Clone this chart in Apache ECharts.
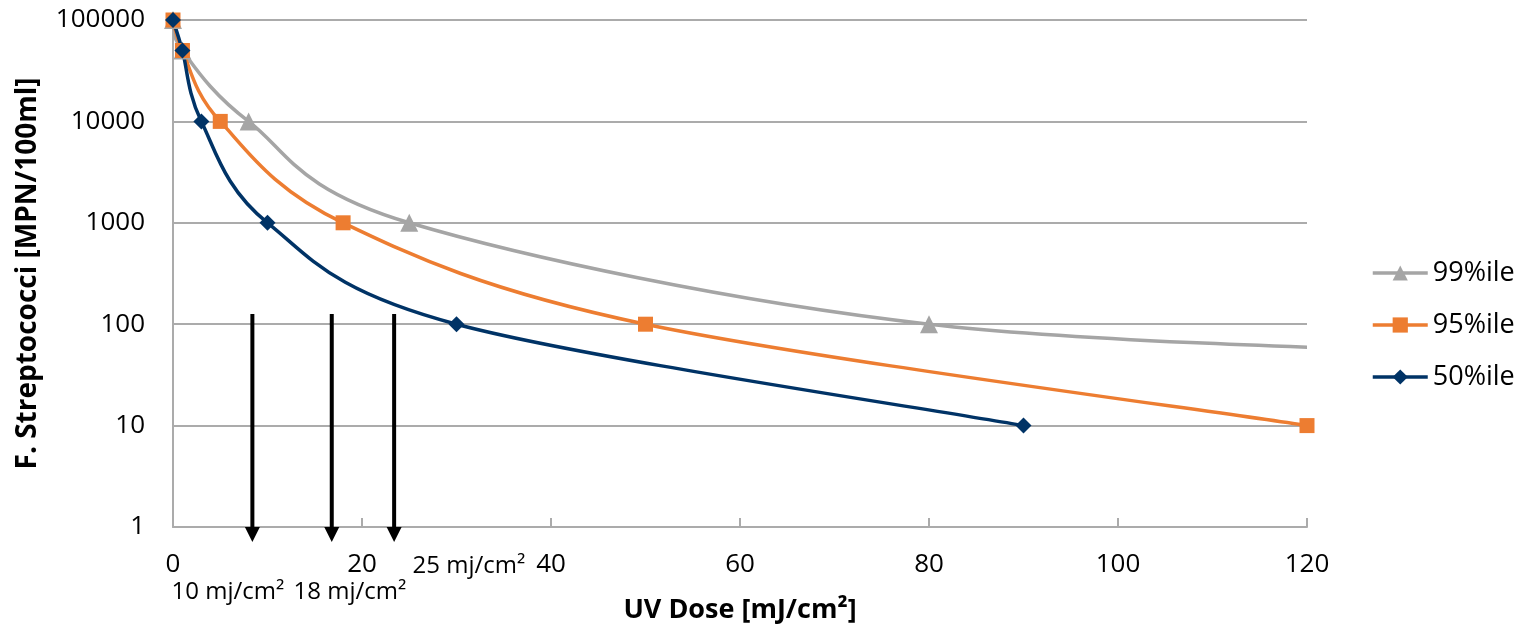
<!DOCTYPE html>
<html>
<head>
<meta charset="utf-8">
<script src="https://cdn.jsdelivr.net/npm/echarts@6/dist/echarts.min.js"></script>
<style>
html,body{margin:0;padding:0;background:#fff;}
#chart{width:1516px;height:629px;}
</style>
</head>
<body>
<div id="chart"></div>
<script>
// ---- data ----
var seriesNames = ['99%ile', '95%ile', '50%ile'];
var dose99 = [0, 1, 8, 25, 80, 150];
var count99 = [100000, 50000, 10000, 1000, 100, 48];
var dose95 = [0, 1, 5, 18, 50, 120];
var count95 = [100000, 50000, 10000, 1000, 100, 10];
var dose50 = [0, 1, 3, 10, 30, 90];
var count50 = [100000, 50000, 10000, 1000, 100, 10];
var arrowDoses = [8.4, 16.8, 23.4];
var arrowTopCount = 126;
var arrowLabels = ['10 mj/cm\u00B2', '18 mj/cm\u00B2', '25 mj/cm\u00B2'];
var xTicks = [0, 20, 40, 60, 80, 100, 120];
var yTicks = [1, 10, 100, 1000, 10000, 100000];

function pairs(xs, ys) { return xs.map(function (x, i) { return [x, ys[i]]; }); }

var FONT = '"Open Sans", "Noto Sans", sans-serif';
var colors = ['#A5A5A5', '#ED7D31', '#003366'];
var symbols = ['triangle', 'rect', 'diamond'];
var symbolSizes = [18, 15, 16];
var datas = [pairs(dose99, count99), pairs(dose95, count95), pairs(dose50, count50)];

// smooth curve (cardinal spline, Excel-like) through points already mapped by the axes
function smoothPath(pts) {
  var t = 1 / 6;
  var d = 'M' + pts[0][0] + ' ' + pts[0][1];
  for (var i = 0; i < pts.length - 1; i++) {
    var p0 = pts[i > 0 ? i - 1 : i], p1 = pts[i], p2 = pts[i + 1], p3 = pts[i + 2 < pts.length ? i + 2 : i + 1];
    var c1x = p1[0] + (p2[0] - p0[0]) * t, c1y = p1[1] + (p2[1] - p0[1]) * t;
    var c2x = p2[0] - (p3[0] - p1[0]) * t, c2y = p2[1] - (p3[1] - p1[1]) * t;
    d += ' C' + c1x + ' ' + c1y + ' ' + c2x + ' ' + c2y + ' ' + p2[0] + ' ' + p2[1];
  }
  return d;
}

var chart = echarts.init(document.getElementById('chart'), null, {renderer: 'canvas'});

var curveSeries = seriesNames.map(function (n, k) {
  return {
    name: n + ' curve',
    type: 'custom',
    coordinateSystem: 'cartesian2d',
    data: datas[k],
    encode: {x: 0, y: 1},
    clip: true,
    silent: true,
    z: 2,
    zlevel: 0,
    renderItem: function (params, api) {
      if (params.dataIndex !== 0) return null;
      var pts = datas[k].map(function (p) { return api.coord(p); });
      return {
        type: 'path',
        z2: k,
        shape: {pathData: smoothPath(pts)},
        style: {fill: null, stroke: colors[k], lineWidth: 3.5, lineJoin: 'round', lineCap: 'butt'}
      };
    }
  };
});

var markerSeries = seriesNames.map(function (n, i) {
  return {
    name: n,
    type: 'line',
    data: datas[i],
    clip: i === 0,
    symbol: symbols[i],
    symbolSize: symbolSizes[i],
    showAllSymbol: true,
    color: colors[i],
    itemStyle: {color: colors[i]},
    lineStyle: {color: colors[i], width: 3.5, opacity: 0},
    z: 3 + i
  };
});

var option = {
  animation: false,
  backgroundColor: '#fff',
  textStyle: {fontFamily: FONT},
  grid: {left: 173, right: 209, top: 20, bottom: 101, containLabel: false},
  legend: {
    orient: 'vertical',
    left: 1371,
    top: 259,
    padding: 0,
    itemWidth: 55,
    itemHeight: 19,
    itemGap: 24,
    data: seriesNames.slice(),
    lineStyle: {width: 3.5, opacity: 1},
    textStyle: {fontFamily: FONT, fontSize: 27, color: '#000', lineHeight: 28}
  },
  xAxis: {
    type: 'value',
    min: xTicks[0],
    max: xTicks[xTicks.length - 1],
    interval: 20,
    name: 'UV Dose [mJ/cm\u00B2]',
    nameLocation: 'middle',
    nameGap: 70,
    nameTextStyle: {fontFamily: FONT, fontSize: 27, fontWeight: 'bold', color: '#000'},
    axisLine: {lineStyle: {color: '#ABABAB', width: 2}},
    axisTick: {show: true, inside: true, length: 9, lineStyle: {color: '#ABABAB', width: 2}},
    axisLabel: {fontFamily: FONT, fontSize: 26, color: '#000', margin: 25},
    splitLine: {show: false}
  },
  yAxis: {
    type: 'log',
    logBase: 10,
    min: yTicks[0],
    max: yTicks[yTicks.length - 1],
    name: 'F. Streptococci [MPN/100ml]',
    nameLocation: 'middle',
    nameGap: 131,
    nameTextStyle: {fontFamily: FONT, fontSize: 28, fontWeight: 'bold', color: '#000'},
    axisLine: {show: true, lineStyle: {color: '#ABABAB', width: 2}},
    axisTick: {show: true, inside: true, length: 7, lineStyle: {color: '#ABABAB', width: 2}},
    axisLabel: {
      fontFamily: FONT, fontSize: 26, color: '#000', margin: 28,
      formatter: function (v) { return String(Math.round(v)); }
    },
    splitLine: {show: true, lineStyle: {color: '#ABABAB', width: 2}}
  },
  series: curveSeries.concat(markerSeries)
};
chart.setOption(option);

// arrows and their labels
var graphics = [];
var bottomPx = chart.convertToPixel({xAxisIndex: 0, yAxisIndex: 0}, [0, yTicks[0]])[1];
arrowDoses.forEach(function (d) {
  var p = chart.convertToPixel({xAxisIndex: 0, yAxisIndex: 0}, [d, arrowTopCount]);
  var tipY = bottomPx + 15;
  graphics.push({
    type: 'line', z: 10,
    shape: {x1: p[0], y1: p[1], x2: p[0], y2: tipY - 12},
    style: {stroke: '#000', lineWidth: 4}
  });
  graphics.push({
    type: 'polygon', z: 10,
    shape: {points: [[p[0] - 7.5, bottomPx], [p[0] + 7.5, bottomPx], [p[0], tipY]]},
    style: {fill: '#000'}
  });
});
var labelPos = [[228, 592], [350, 592], [469, 566]];
arrowLabels.forEach(function (t, i) {
  graphics.push({
    type: 'text', z: 10,
    x: labelPos[i][0], y: labelPos[i][1],
    style: {text: t, fill: '#000', font: '24px ' + FONT, align: 'center', verticalAlign: 'middle'}
  });
});
chart.setOption({graphic: graphics});
</script>
</body>
</html>
